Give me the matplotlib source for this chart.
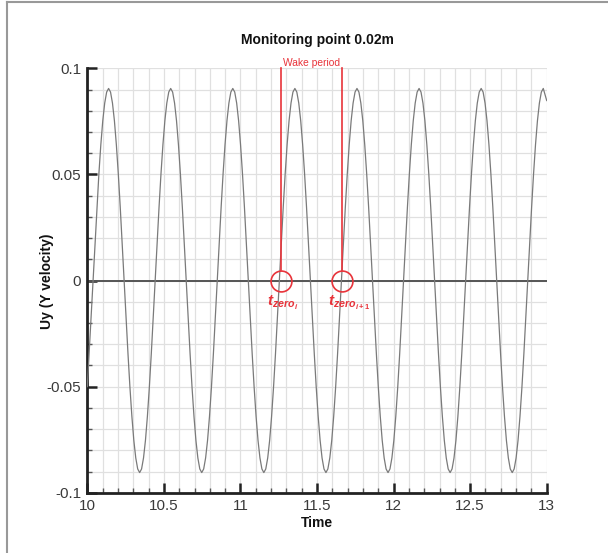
import numpy as np
import matplotlib
matplotlib.use('Agg')
import matplotlib.pyplot as plt
from matplotlib.lines import Line2D
from matplotlib.ticker import MultipleLocator

plt.rcParams['font.family'] = ['Liberation Sans', 'DejaVu Sans']
plt.rcParams['mathtext.fontset'] = 'custom'
plt.rcParams['mathtext.it'] = 'Liberation Sans:italic:bold'
plt.rcParams['mathtext.rm'] = 'Liberation Sans:bold'

t_first, uy_first = 10.0, -0.0500
t_start = 10.0376
t_step = 0.012672
uy_samples = [
    0.0, 0.0177, 0.0346, 0.0503, 0.0640, 0.0753, 0.0836, 0.0888,
    0.0905, 0.0888, 0.0836, 0.0753, 0.0640, 0.0503, 0.0346, 0.0177,
    0.0, -0.0177, -0.0346, -0.0503, -0.0640, -0.0753, -0.0836, -0.0888,
    -0.0905, -0.0888, -0.0836, -0.0753, -0.0640, -0.0503, -0.0346, -0.0177,
    0.0, 0.0177, 0.0346, 0.0503, 0.0640, 0.0753, 0.0836, 0.0888,
    0.0905, 0.0888, 0.0836, 0.0753, 0.0640, 0.0503, 0.0346, 0.0177,
    0.0, -0.0177, -0.0346, -0.0503, -0.0640, -0.0753, -0.0836, -0.0888,
    -0.0905, -0.0888, -0.0836, -0.0753, -0.0640, -0.0503, -0.0346, -0.0177,
    0.0, 0.0177, 0.0346, 0.0503, 0.0640, 0.0753, 0.0836, 0.0888,
    0.0905, 0.0888, 0.0836, 0.0753, 0.0640, 0.0503, 0.0346, 0.0177,
    0.0, -0.0177, -0.0346, -0.0503, -0.0640, -0.0753, -0.0836, -0.0888,
    -0.0905, -0.0888, -0.0836, -0.0753, -0.0640, -0.0503, -0.0346, -0.0177,
    0.0, 0.0177, 0.0346, 0.0503, 0.0640, 0.0753, 0.0836, 0.0888,
    0.0905, 0.0888, 0.0836, 0.0753, 0.0640, 0.0503, 0.0346, 0.0177,
    0.0, -0.0177, -0.0346, -0.0503, -0.0640, -0.0753, -0.0836, -0.0888,
    -0.0905, -0.0888, -0.0836, -0.0753, -0.0640, -0.0503, -0.0346, -0.0177,
    0.0, 0.0177, 0.0346, 0.0503, 0.0640, 0.0753, 0.0836, 0.0888,
    0.0905, 0.0888, 0.0836, 0.0753, 0.0640, 0.0503, 0.0346, 0.0177,
    0.0, -0.0177, -0.0346, -0.0503, -0.0640, -0.0753, -0.0836, -0.0888,
    -0.0905, -0.0888, -0.0836, -0.0753, -0.0640, -0.0503, -0.0346, -0.0177,
    0.0, 0.0177, 0.0346, 0.0503, 0.0640, 0.0753, 0.0836, 0.0888,
    0.0905, 0.0888, 0.0836, 0.0753, 0.0640, 0.0503, 0.0346, 0.0177,
    0.0, -0.0177, -0.0346, -0.0503, -0.0640, -0.0753, -0.0836, -0.0888,
    -0.0905, -0.0888, -0.0836, -0.0753, -0.0640, -0.0503, -0.0346, -0.0177,
    0.0, 0.0177, 0.0346, 0.0503, 0.0640, 0.0753, 0.0836, 0.0888,
    0.0905, 0.0888, 0.0836, 0.0753, 0.0640, 0.0503, 0.0346, 0.0177,
    0.0, -0.0177, -0.0346, -0.0503, -0.0640, -0.0753, -0.0836, -0.0888,
    -0.0905, -0.0888, -0.0836, -0.0753, -0.0640, -0.0503, -0.0346, -0.0177,
    0.0, 0.0177, 0.0346, 0.0503, 0.0640, 0.0753, 0.0836, 0.0888,
    0.0905,
]
t_last, uy_last = 13.0, 0.0848

# zero crossings marked on the chart
t_zero = [11.262, 11.664]
zero_labels = [r'$t_{zero_i}$', r'$t_{zero_{i+1}}$']

x_ticks = [10, 10.5, 11, 11.5, 12, 12.5, 13]
x_ticklabels = ['10', '10.5', '11', '11.5', '12', '12.5', '13']
y_ticks = [-0.1, -0.05, 0, 0.05, 0.1]
y_ticklabels = ['-0.1', '-0.05', '0', '0.05', '0.1']

red = '#e8333a'

t = np.concatenate([[t_first], t_start + t_step * np.arange(len(uy_samples)), [t_last]])
uy = np.concatenate([[uy_first], uy_samples, [uy_last]])

fig = plt.figure(figsize=(6.08, 5.53), dpi=100)
ax = fig.add_axes([0.1436, 0.1090, 0.7556, 0.7675])

ax.set_xlim(10, 13)
ax.set_ylim(-0.1, 0.1)
ax.xaxis.set_minor_locator(MultipleLocator(0.1))
ax.yaxis.set_minor_locator(MultipleLocator(0.01))
ax.set_xticks(x_ticks)
ax.set_xticklabels(x_ticklabels)
ax.set_yticks(y_ticks)
ax.set_yticklabels(y_ticklabels)
ax.grid(which='both', color='#e0e0e0', lw=0.9)
ax.set_axisbelow(True)

for s in ['top', 'right']:
    ax.spines[s].set_visible(False)
for s in ['left', 'bottom']:
    ax.spines[s].set_linewidth(2.0)
    ax.spines[s].set_color('#222222')

ax.tick_params(which='major', direction='in', length=7, width=1.8, color='#222222',
               labelsize=11, labelcolor='#3a3a3a', pad=4.5)
ax.tick_params(which='minor', direction='in', length=3.5, width=1.0, color='#555555')

ax.axhline(0, color='#555555', lw=1.4, zorder=2)
ax.plot(t, uy, color='#7a7a7a', lw=0.9, zorder=3)

for tz, lab in zip(t_zero, zero_labels):
    ax.plot([tz, tz], [0.1, 0.0048], color=red, lw=1.2, zorder=4, clip_on=False)
    ax.plot(tz, 0, 'o', ms=15, mfc='none', mec=red, mew=1.2, zorder=5)
    ax.text(tz - 0.09, -0.0108, lab, color=red, fontsize=11, ha='left', va='center', zorder=5)

ax.text(sum(t_zero) / 2, 1.013, 'Wake period', color=red, fontsize=7.4,
        ha='center', va='center', transform=ax.get_xaxis_transform(), clip_on=False)

fig.text(317 / 608, 1 - 40 / 553, 'Monitoring point 0.02m', ha='center', va='center',
         fontsize=10, fontweight='bold', color='#111111')
fig.text(46.5 / 608, 1 - 281 / 553, 'Uy (Y velocity)', rotation=90, ha='center', va='center',
         fontsize=10, fontweight='bold', color='#111111')
fig.text(317 / 608, 1 - 523 / 553, 'Time', ha='center', va='center',
         fontsize=10, fontweight='bold', color='#111111')

# screenshot frame (top and left edges)
fig.add_artist(Line2D([7.3 / 608, 7.3 / 608], [0, 1 - 2 / 553], color='#999999', lw=1.5,
                      transform=fig.transFigure))
fig.add_artist(Line2D([7.3 / 608, 1], [1 - 2 / 553, 1 - 2 / 553], color='#999999', lw=1.5,
                      transform=fig.transFigure))

fig.savefig('out.png', dpi=100)
